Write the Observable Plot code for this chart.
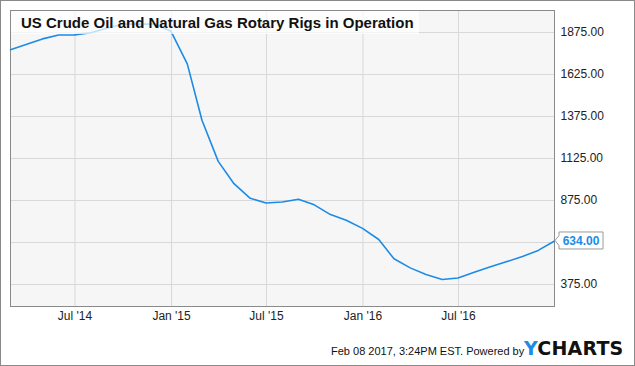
<!DOCTYPE html>
<html>
<head>
<meta charset="utf-8">
<script src="https://cdn.jsdelivr.net/npm/d3@7"></script>
<script src="https://cdn.jsdelivr.net/npm/@observablehq/plot@0.6"></script>
<style>
  html, body { margin: 0; padding: 0; background: #fff; }
  #wrap { position: relative; width: 635px; height: 366px; overflow: hidden; font-family: "Liberation Sans", Arial, sans-serif; }
  #border { position: absolute; left: 0; top: 0; width: 635px; height: 366px; box-sizing: border-box; border: 1px solid #8a8a8a; pointer-events: none; }
  #title { position: absolute; left: 11px; top: 11px; width: 408px; height: 23px; background: rgba(255,255,255,0.72); font-weight: bold; font-size: 15px; line-height: 23px; padding-left: 10px; box-sizing: border-box; color: #111; white-space: nowrap; }
  #foot { position: absolute; left: 331px; top: 345px; font-size: 11px; color: #111; white-space: nowrap; }
  #logo { position: absolute; left: 524px; top: 337px; font-size: 19px; font-weight: 900; letter-spacing: 0.2px; white-space: nowrap; font-family: "DejaVu Sans", "Liberation Sans", sans-serif; }
  #logo .y { color: #1b8be8; }
  #logo .c { color: #111; }
</style>
</head>
<body>
<div id="wrap"></div>
<script>
const dates = [
  "2014-02-28","2014-03-31","2014-04-30","2014-05-31","2014-06-30","2014-07-31","2014-08-31","2014-09-30","2014-10-31","2014-11-30","2014-12-31",
  "2015-01-31","2015-02-28","2015-03-31","2015-04-30","2015-05-31","2015-06-30","2015-07-31","2015-08-31","2015-09-30","2015-10-31","2015-11-30","2015-12-31",
  "2016-01-31","2016-02-29","2016-03-31","2016-04-30","2016-05-31","2016-06-30","2016-07-31","2016-08-31","2016-09-30","2016-10-31","2016-11-30","2016-12-31"
];
const rigs = [
  1772, 1805, 1837, 1860, 1861, 1874, 1900, 1926, 1925, 1925, 1882,
  1688, 1353, 1108, 975, 888, 860, 866, 882, 849, 791, 757, 709,
  643, 528, 474, 434, 405, 414, 448, 480, 510, 542, 578, 634
];
const yTicks = [375, 625, 875, 1125, 1375, 1625, 1875];
const yLabelTicks = [375, 875, 1125, 1375, 1625, 1875];
const xTicks = ["2014-07-01","2015-01-01","2015-07-01","2016-01-01","2016-07-01"];
const xTickLabels = ["Jul '14","Jan '15","Jul '15","Jan '16","Jul '16"];

const data = dates.map((d, i) => ({date: new Date(d), value: rigs[i]}));
const xTickDates = xTicks.map(d => new Date(d));
const last = data[data.length - 1];

const chart = Plot.plot({
  width: 635,
  height: 366,
  marginLeft: 10,
  marginRight: 81,
  marginTop: 10,
  marginBottom: 60,
  style: {fontFamily: "Liberation Sans, Arial, sans-serif", fontSize: "12px", background: "transparent", color: "#222"},
  x: {type: "utc", domain: [new Date("2014-02-28"), new Date("2016-12-31")]},
  y: {domain: [244, 2006]},
  marks: [
    Plot.frame({fill: "#f6f6f6", stroke: "none"}),
    Plot.gridX(xTickDates, {stroke: "#d8d8d8", strokeOpacity: 1, strokeWidth: 1}),
    Plot.gridY(yTicks, {stroke: "#d8d8d8", strokeOpacity: 1, strokeWidth: 1}),
    Plot.frame({stroke: "#8a8a8a", strokeWidth: 1}),
    Plot.axisY(yLabelTicks, {anchor: "right", tickSize: 0, tickPadding: 6, tickFormat: d => d.toFixed(2), label: null, fill: "#222", fontSize: 12}),
    Plot.axisX(xTickDates, {anchor: "bottom", tickSize: 0, tickPadding: 5, tickFormat: (d, i) => xTickLabels[i], label: null, fill: "#222", fontSize: 12}),
    Plot.line(data, {x: "date", y: "value", stroke: "#1b8be8", strokeWidth: 1.6})
  ]
});

const wrap = document.getElementById("wrap");
wrap.appendChild(chart);

// last-value callout, positioned through the chart's scales
const sx = chart.scale("x"), sy = chart.scale("y");
const px = sx.apply(last.date), py = sy.apply(last.value);
const svg = d3.select(chart);
const bx = px + 5, bw = 44, bh = 17;
svg.append("path")
  .attr("d", `M${px + 1},${py} L${bx},${py - 5} L${bx},${py - bh / 2} L${bx + bw},${py - bh / 2} L${bx + bw},${py + bh / 2} L${bx},${py + bh / 2} L${bx},${py + 5} Z`)
  .attr("fill", "#fff").attr("stroke", "#9a9a9a").attr("stroke-width", 1);
svg.append("text")
  .attr("x", bx + bw / 2).attr("y", py).attr("dy", "0.35em")
  .attr("text-anchor", "middle")
  .attr("font-size", 12).attr("font-weight", "bold")
  .attr("fill", "#1b8be8")
  .text(last.value.toFixed(2));

const title = document.createElement("div");
title.id = "title";
title.textContent = "US Crude Oil and Natural Gas Rotary Rigs in Operation";
wrap.appendChild(title);

const foot = document.createElement("div");
foot.id = "foot";
foot.textContent = "Feb 08 2017, 3:24PM EST.  Powered by";
wrap.appendChild(foot);

const logo = document.createElement("div");
logo.id = "logo";
logo.innerHTML = '<span class="y">Y</span><span class="c">CHARTS</span>';
wrap.appendChild(logo);

const border = document.createElement("div");
border.id = "border";
wrap.appendChild(border);
</script>
</body>
</html>
